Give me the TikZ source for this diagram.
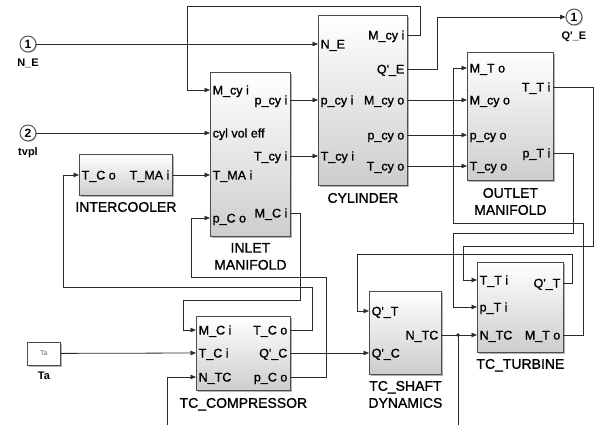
\documentclass[tikz,border=0pt]{standalone}
\usepackage{fontspec}
\setmainfont{Liberation Sans}
\newfontfamily\labfont{Liberation Sans}[FakeBold=1.2]
\usetikzlibrary{arrows.meta,positioning,shadows}
\definecolor{SigGray}{HTML}{2B2B2B}
\definecolor{BlockShade}{HTML}{CDCDCD}

\begin{document}
\begin{tikzpicture}[x=1pt,y=-1pt,
  sig/.style={draw=SigGray,line width=0.8pt,-{Triangle[length=5.5pt,width=4.5pt]}},
  blk/.style={draw=black!70,line width=0.8pt,top color=white,bottom color=BlockShade,
    drop shadow={shadow xshift=1.6pt,shadow yshift=-1.6pt,fill=black!50,opacity=0.6},
    anchor=north west,inner sep=0pt},
  portin/.style={anchor=west,font=\labfont\fontsize{12.5}{14}\selectfont,inner xsep=2.5pt,
    inner ysep=0pt,text height=11pt,text depth=2pt},
  portout/.style={portin,anchor=east},
  blab/.style={font=\labfont\fontsize{14}{17}\selectfont,align=center,inner sep=0pt},
  io/.style={circle,draw=black!70,line width=0.9pt,fill=white,minimum size=16pt,inner sep=0pt,
    font=\bfseries\fontsize{12}{12}\selectfont,
    drop shadow={shadow xshift=1pt,shadow yshift=-1pt,fill=black!40,opacity=0.5}},
  iolab/.style={font=\bfseries\fontsize{11}{13}\selectfont,inner sep=0pt}]
  \useasboundingbox (0,0) rectangle (595,425);
  \clip (0,0) rectangle (595,425);

  % blocks
  \node[blk,minimum width=93pt,minimum height=41pt] (ic) at (79,154) {};
  \node[blk,minimum width=80pt,minimum height=164pt] (inl) at (210,72) {};
  \node[blk,minimum width=89pt,minimum height=170pt] (cyl) at (318,15) {};
  \node[blk,minimum width=86pt,minimum height=128pt] (outl) at (467,52) {};
  \node[blk,minimum width=94pt,minimum height=74pt] (comp) at (196,316) {};
  \node[blk,minimum width=72pt,minimum height=83pt] (shaft) at (369,291) {};
  \node[blk,minimum width=86pt,minimum height=90pt] (turb) at (477,262) {};
  \node[blk,minimum width=33pt,minimum height=23pt,bottom color=white,
    font=\fontsize{7}{8}\selectfont,text=black!60] (ta) at (27,341.5) {Ta};

  \node[blab,below=6pt of ic] {INTERCOOLER};
  \node[blab,below=6pt of inl] {INLET\\MANIFOLD};
  \node[blab,below=7pt of cyl] {CYLINDER};
  \node[blab,below=7pt of outl] {OUTLET\\MANIFOLD};
  \node[blab,below=7pt of comp] {TC\_COMPRESSOR};
  \node[blab,below=6pt of shaft] {TC\_SHAFT\\DYNAMICS};
  \node[blab,below=6pt of turb] {TC\_TURBINE};
  \node[iolab,below=6pt of ta] {Ta};

  % in- and outports
  \node[io] (ne) at (28,44) {1};
  \node[iolab,below=6pt of ne] {N\_E};
  \node[io] (tv) at (28,133) {2};
  \node[iolab,below=6pt of tv] {tvpl};
  \node[io] (qe) at (574,17) {1};
  \node[iolab,below=6pt of qe] {Q\textquotesingle\_E};

  % port labels
  \foreach \nm/\txt/\x/\y in {
    iMcyi/{M\_cy i}/210/90, iCve/{cyl vol eff}/210/133, iTMAi/{T\_MA i}/210/175,
    iPCo/{p\_C o}/210/218, cNE/{N\_E}/318/44, cPcyi/{p\_cy i}/318/100,
    cTcyi/{T\_cy i}/318/156, oMTo/{M\_T o}/467/68, oMcyo/{M\_cy o}/467/100,
    oPcyo/{p\_cy o}/467/135, oTcyo/{T\_cy o}/467/166, icTCo/{T\_C o}/79/175,
    cpMCi/{M\_C i}/196/330, cpTCi/{T\_C i}/196/353, cpNTC/{N\_TC}/196/377,
    sQT/{Q\textquotesingle\_T}/369/311, sQC/{Q\textquotesingle\_C}/369/353,
    tTTi/{T\_T i}/477/280, tPTi/{p\_T i}/477/307, tNTC/{N\_TC}/477/335}
    \node[portin] (\nm) at (\x,\y) {\txt};
  \foreach \nm/\txt/\x/\y in {
    iPcyi/{p\_cy i}/290/100, iTcyi/{T\_cy i}/290/156, iMCi/{M\_C i}/290/213,
    cMcyi/{M\_cy i}/407/35, cQE/{Q\textquotesingle\_E}/407/69, cMcyo/{M\_cy o}/407/100,
    cPcyo/{p\_cy o}/407/135, cTcyo/{T\_cy o}/407/166, oTTi/{T\_T i}/553/87,
    oPTi/{p\_T i}/553/153, icTMAi/{T\_MA i}/172/175, cpTCo/{T\_C o}/290/330,
    cpQC/{Q\textquotesingle\_C}/290/353, cpPCo/{p\_C o}/290/377,
    sNTC/{N\_TC}/441/335, tQT/{Q\textquotesingle\_T}/563/283, tMTo/{M\_T o}/563/335}
    \node[portout] (\nm) at (\x,\y) {\txt};

  % signals
  \draw[sig] (ne.east) -- (cNE.west);
  \draw[sig] (tv.east) -- (iCve.west);
  \draw[sig] (cMcyi.east) -| (420,6) -| (187,90) -- (iMcyi.west);
  \draw[sig] (iPcyi.east) -- (cPcyi.west);
  \draw[sig] (iTcyi.east) -- (cTcyi.west);
  \draw[sig] (icTMAi.east) -- (iTMAi.west);
  \draw[sig] (cQE.east) -| (437,17) -- (qe.west);
  \draw[sig] (cMcyo.east) -- (oMcyo.west);
  \draw[sig] (cPcyo.east) -- (oPcyo.west);
  \draw[sig] (cTcyo.east) -- (oTcyo.west);
  \draw[sig] (oTTi.east) -| (593,246) -| (463,280) -- (tTTi.west);
  \draw[sig] (oPTi.east) -| (573,233) -| (453,307) -- (tPTi.west);
  \draw[sig] (tMTo.east) -| (583,223) -| (453,68) -- (oMTo.west);
  \draw[sig] (tQT.east) -| (572,254) -| (357,311) -- (sQT.west);
  \draw[sig] (ta.east) -- (cpTCi.west);
  \draw[sig] (cpQC.east) -- (sQC.west);
  \draw[sig] (cpTCo.east) -| (312,287) -| (63,175) -- (icTCo.west);
  \draw[sig] (iMCi.east) -| (300,300) -| (183,330) -- (cpMCi.west);
  \draw[sig] (cpPCo.east) -| (326,277) -| (191,218) -- (iPCo.west);
  \coordinate (jn) at (458,335);
  \draw[sig] (sNTC.east) -- (tNTC.west);
  \fill[SigGray] (jn) circle (1.8pt);
  \draw[sig] (jn) -- ++(0,105) -| (167,377) -- (cpNTC.west);
\end{tikzpicture}
\end{document}
